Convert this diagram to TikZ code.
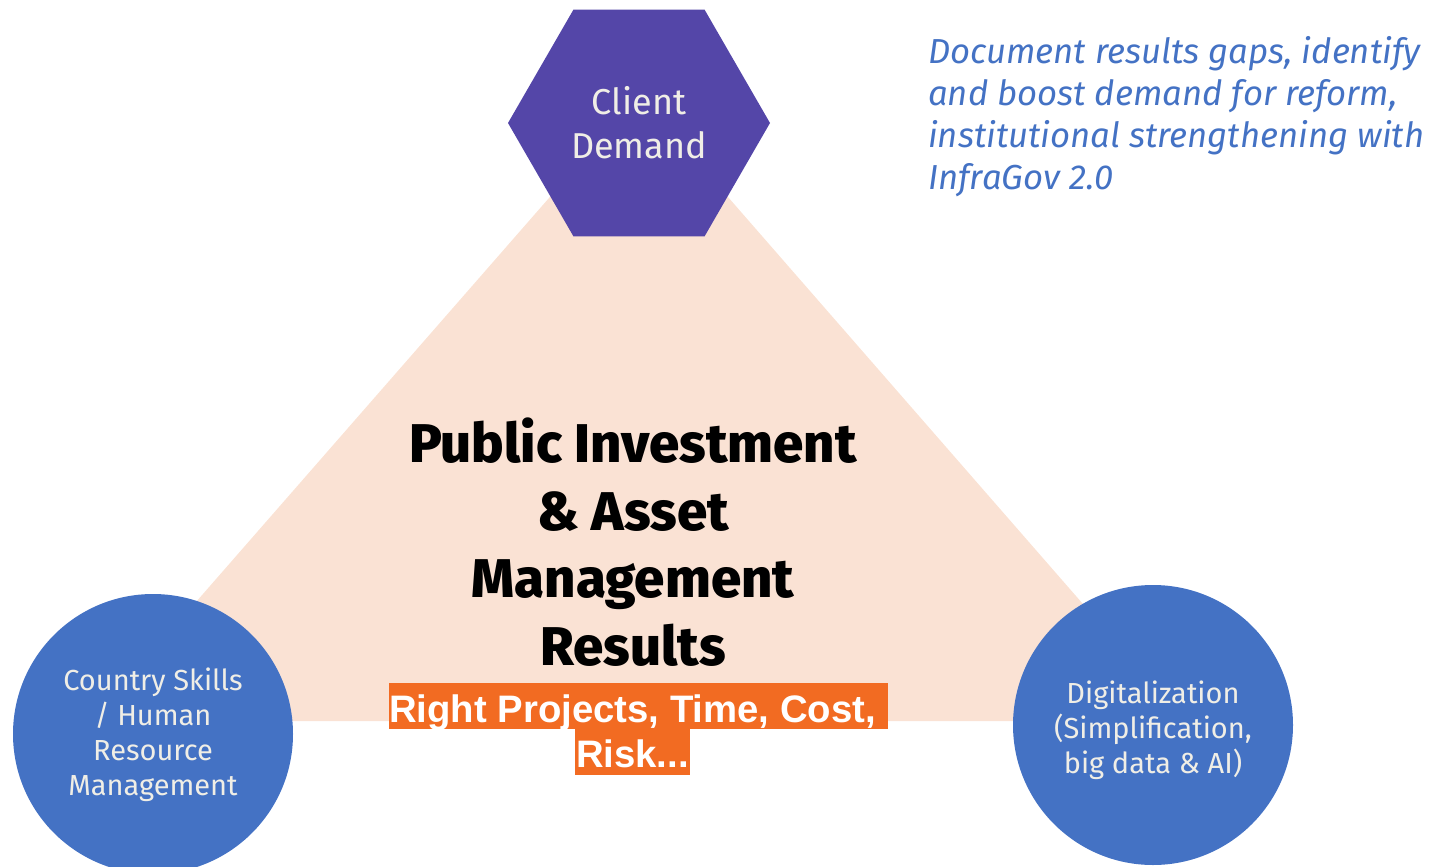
\documentclass[tikz,border=0pt]{standalone}
\usepackage{fontspec}
\setmainfont{Fira Sans}
\newfontfamily\heavyfont{Fira Sans ExtraBold}
\newfontfamily\hlfont{Liberation Sans}
\usepackage{xcolor}
\usetikzlibrary{shapes.geometric}
\definecolor{hexpurple}{HTML}{5446A8}
\definecolor{dotblue}{HTML}{4472C4}
\definecolor{tripeach}{HTML}{FAE2D4}
\definecolor{hlorange}{HTML}{F26B22}
\definecolor{softwhite}{HTML}{F0EEE6}

\begin{document}
\begin{tikzpicture}[x=1pt,y=-1pt,
		hexa/.style={regular polygon,regular polygon sides=6,minimum size=262pt,inner sep=0pt,fill=hexpurple,text=softwhite,align=center,font=\fontsize{36}{44}\selectfont},
		disc/.style={circle,minimum size=280pt,inner sep=0pt,fill=dotblue},
		disctext/.style={text=softwhite,align=center,inner sep=0pt,font=\fontsize{29}{35}\selectfont},
		hl/.style={fill=hlorange,text=white,inner sep=0pt,text height=39pt,font=\hlfont\bfseries\fontsize{38.3}{46}\selectfont}]
			\useasboundingbox (0,0) rectangle (1430,867);
			\fill[tripeach] (639,95) -- (92,721) -- (1185,721) -- cycle;
			
			\node[hexa] (demand) at (639,123) {Client\\Demand};
			\node[disc] (skills) at (153,734) {};
			\node[disctext,yshift=-1pt] (skillstext) at (skills) {Country Skills\\/ Human\\Resource\\Management};
			\node[disc] (digital) at (1153,725) {};
			\node[disctext,yshift=-5pt] (digitaltext) at (digital) {Digitalization\\(Simplification,\\big data \& AI)};
			
			\node[font=\heavyfont\fontsize{54.5}{67.5}\selectfont,align=center,inner sep=0pt] (results) at (633,542) {Public Investment\\\& Asset\\Management\\Results};
			\node[hl,text depth=7pt,anchor=base west] (aims) at (389,722) {\makebox[499pt][l]{Right Projects, Time, Cost,}};
			\node[hl,text depth=8pt,minimum width=115pt,anchor=base] (risk) at (632.5,767) {Risk...};
			
			\node[anchor=north west,inner sep=0pt,align=left,text=dotblue,font=\itshape\fontsize{34.7}{42}\selectfont] (note) at (928,36) {Document results gaps, identify\\and boost demand for reform,\\institutional strengthening with\\InfraGov 2.0};
\end{tikzpicture}
\end{document}
